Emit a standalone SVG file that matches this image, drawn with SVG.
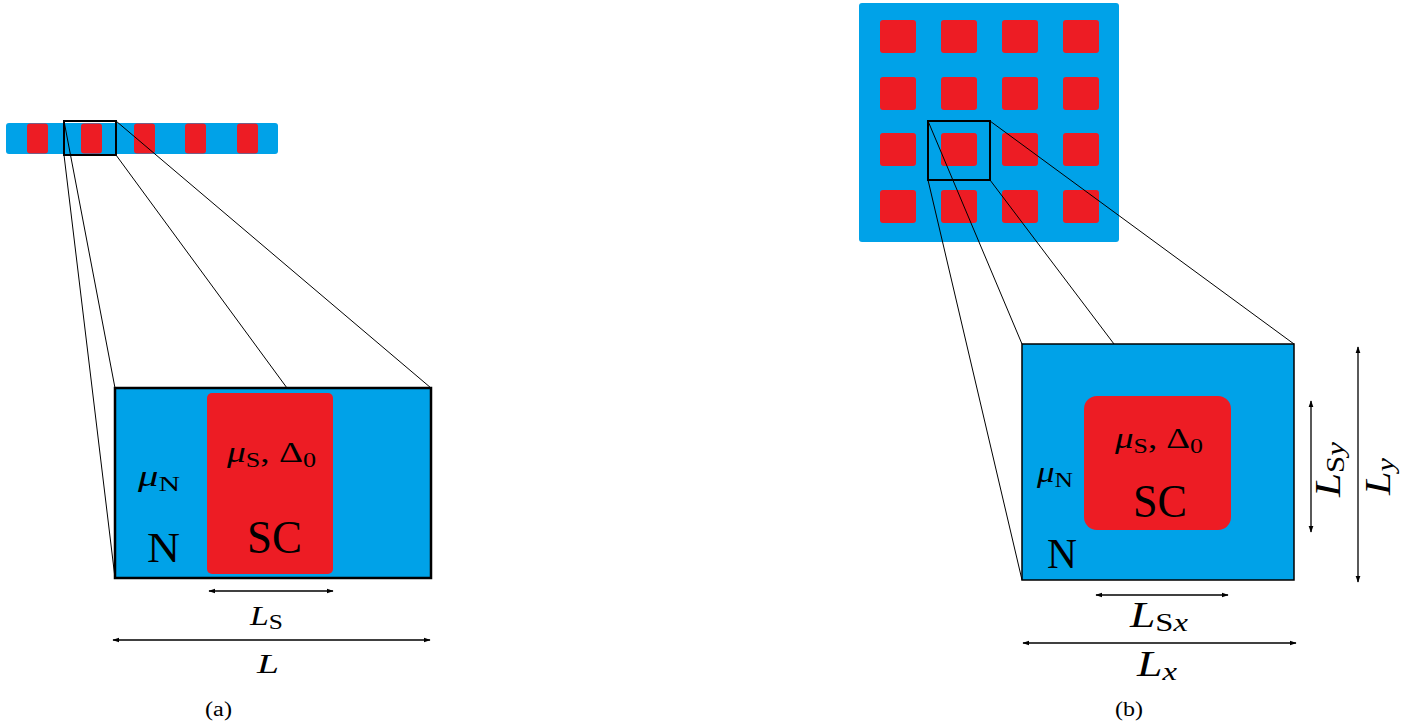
<svg xmlns="http://www.w3.org/2000/svg" width="1425" height="727" viewBox="0 0 1425 727">
<defs>
<style>
.blue{fill:#00A2E8}
.red{fill:#ED1C24}
.ln{stroke:#000;stroke-width:1;fill:none}
.dim{stroke:#000;stroke-width:1.3;fill:none;marker-start:url(#ah);marker-end:url(#ah)}
.t{font-family:"Liberation Serif","DejaVu Serif",serif;fill:#000}
.i{font-style:italic}
</style>
<marker id="ah" viewBox="0 0 10 10" refX="9" refY="5" markerWidth="7" markerHeight="7" markerUnits="userSpaceOnUse" orient="auto-start-reverse">
<path d="M0,1.5 L10,5 L0,8.5 Z" fill="#000"/>
</marker>
</defs>
<rect width="1425" height="727" fill="#fff"/>

<!-- (a) 1D chain -->
<g id="chain1d">
<rect class="blue" x="6" y="123" width="272" height="31" rx="3"/>
<rect class="red" x="27" y="123.5" width="21" height="30" rx="3"/>
<rect class="red" x="81" y="123.5" width="21" height="30" rx="3"/>
<rect class="red" x="134" y="123.5" width="21" height="30" rx="3"/>
<rect class="red" x="185" y="123.5" width="21" height="30" rx="3"/>
<rect class="red" x="237" y="123.5" width="21" height="30" rx="3"/>
<rect x="64" y="121" width="52" height="34" fill="none" stroke="#000" stroke-width="2"/>
</g>

<g id="cellA">
<rect class="blue" x="115" y="388" width="316" height="190" stroke="#000" stroke-width="2.5"/>
<rect class="red" x="207" y="393" width="126" height="181" rx="5"/>
<text class="t" x="227" y="462" font-size="30" textLength="89" lengthAdjust="spacingAndGlyphs"><tspan class="i">μ</tspan><tspan font-size="21" dy="5">S</tspan><tspan dy="-5">, Δ</tspan><tspan font-size="21" dy="5">0</tspan></text>
<text class="t" x="138" y="486" font-size="30" textLength="42" lengthAdjust="spacingAndGlyphs"><tspan class="i">μ</tspan><tspan font-size="22" dy="5">N</tspan></text>
<text class="t" x="147" y="562" font-size="43" textLength="33" lengthAdjust="spacingAndGlyphs">N</text>
<text class="t" x="247" y="553" font-size="46" textLength="55" lengthAdjust="spacingAndGlyphs">SC</text>
<text class="t" x="250" y="625" font-size="28" textLength="33" lengthAdjust="spacingAndGlyphs"><tspan class="i">L</tspan><tspan font-size="21" dy="4">S</tspan></text>
<text class="t i" x="257" y="673" font-size="28" textLength="22" lengthAdjust="spacingAndGlyphs">L</text>
<text class="t" x="205" y="716" font-size="20" textLength="27" lengthAdjust="spacingAndGlyphs">(a)</text>
</g>

<!-- (b) 2D lattice -->
<g id="lattice2d">
<rect class="blue" x="859" y="3" width="260" height="239" rx="3"/>
<g class="red">
<rect x="880" y="20" width="36" height="33" rx="3"/><rect x="941" y="20" width="36" height="33" rx="3"/><rect x="1002" y="20" width="36" height="33" rx="3"/><rect x="1063" y="20" width="36" height="33" rx="3"/>
<rect x="880" y="77" width="36" height="33" rx="3"/><rect x="941" y="77" width="36" height="33" rx="3"/><rect x="1002" y="77" width="36" height="33" rx="3"/><rect x="1063" y="77" width="36" height="33" rx="3"/>
<rect x="880" y="133" width="36" height="33" rx="3"/><rect x="941" y="133" width="36" height="33" rx="3"/><rect x="1002" y="133" width="36" height="33" rx="3"/><rect x="1063" y="133" width="36" height="33" rx="3"/>
<rect x="880" y="190" width="36" height="33" rx="3"/><rect x="941" y="190" width="36" height="33" rx="3"/><rect x="1002" y="190" width="36" height="33" rx="3"/><rect x="1063" y="190" width="36" height="33" rx="3"/>
</g>
<rect x="928" y="121" width="62" height="59" fill="none" stroke="#000" stroke-width="2"/>
</g>

<g id="cellB">
<rect class="blue" x="1022" y="344" width="272" height="236" stroke="#000" stroke-width="1.5"/>
<rect class="red" x="1084" y="396" width="147" height="134" rx="13"/>
<text class="t" x="1115" y="448" font-size="30" textLength="88" lengthAdjust="spacingAndGlyphs"><tspan class="i">μ</tspan><tspan font-size="21" dy="5">S</tspan><tspan dy="-5">, Δ</tspan><tspan font-size="21" dy="5">0</tspan></text>
<text class="t" x="1037" y="482" font-size="30" textLength="36" lengthAdjust="spacingAndGlyphs"><tspan class="i">μ</tspan><tspan font-size="22" dy="5">N</tspan></text>
<text class="t" x="1047" y="568" font-size="43" textLength="30" lengthAdjust="spacingAndGlyphs">N</text>
<text class="t" x="1133" y="517" font-size="46" textLength="54" lengthAdjust="spacingAndGlyphs">SC</text>
<text class="t" x="1130" y="627" font-size="35" textLength="58" lengthAdjust="spacingAndGlyphs"><tspan class="i">L</tspan><tspan font-size="25" dy="4">S</tspan><tspan font-size="25" class="i">x</tspan></text>
<text class="t" x="1137" y="676" font-size="35" textLength="40" lengthAdjust="spacingAndGlyphs"><tspan class="i">L</tspan><tspan font-size="25" dy="4" class="i">x</tspan></text>
<text class="t" transform="translate(1340,497) rotate(-90)" font-size="35" textLength="55" lengthAdjust="spacingAndGlyphs"><tspan class="i">L</tspan><tspan font-size="25" dy="4">S</tspan><tspan font-size="25" class="i">y</tspan></text>
<text class="t" transform="translate(1390,495) rotate(-90)" font-size="35" textLength="37" lengthAdjust="spacingAndGlyphs"><tspan class="i">L</tspan><tspan font-size="25" dy="4" class="i">y</tspan></text>
<text class="t" x="1115" y="716" font-size="20" textLength="28" lengthAdjust="spacingAndGlyphs">(b)</text>
</g>

<g id="connectors">
<line class="ln" x1="64" y1="121" x2="115" y2="388"/>
<line class="ln" x1="64" y1="155" x2="115" y2="578"/>
<line class="ln" x1="116" y1="121" x2="431" y2="388"/>
<line class="ln" x1="116" y1="155" x2="287" y2="388"/>
<line class="ln" x1="928" y1="121" x2="1022" y2="344"/>
<line class="ln" x1="928" y1="180" x2="1022" y2="580"/>
<line class="ln" x1="990" y1="121" x2="1294" y2="344"/>
<line class="ln" x1="990" y1="180" x2="1114" y2="344"/>
<line class="dim" x1="209" y1="591" x2="333" y2="591"/>
<line class="dim" x1="113" y1="640" x2="430" y2="640"/>
<line class="dim" x1="1096" y1="595" x2="1228" y2="595"/>
<line class="dim" x1="1023" y1="643" x2="1296" y2="643"/>
<line class="dim" x1="1311" y1="401" x2="1311" y2="532"/>
<line class="dim" x1="1358" y1="347" x2="1358" y2="582"/>
</g>
</svg>
